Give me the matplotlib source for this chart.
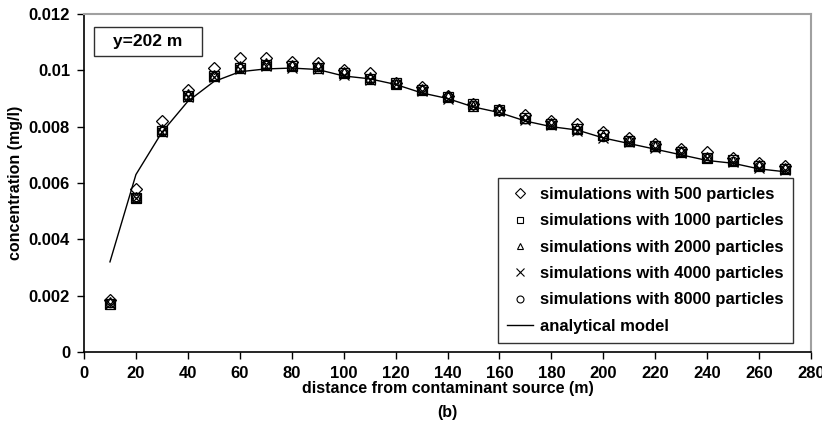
import matplotlib
matplotlib.use("Agg")
import matplotlib.pyplot as plt
from matplotlib.lines import Line2D
from matplotlib.patches import Rectangle

plt.rcParams['font.family'] = ['Liberation Sans', 'DejaVu Sans']

distance = [10, 20, 30, 40, 50, 60, 70, 80, 90, 100, 110, 120, 130, 140,
            150, 160, 170, 180, 190, 200, 210, 220, 230, 240, 250, 260, 270]

sim500 = [0.00185, 0.0058, 0.0082, 0.0093, 0.0101, 0.01045, 0.01045, 0.0103, 0.01025,
          0.0100, 0.0099, 0.00955, 0.0094, 0.0091, 0.0088, 0.0086, 0.0084, 0.0082,
          0.0081, 0.0078, 0.0076, 0.0074, 0.0072, 0.0071, 0.0069, 0.0067, 0.0066]
sim1000 = [0.00172, 0.00548, 0.00785, 0.0091, 0.0098, 0.0101, 0.0102, 0.01015, 0.0101,
           0.0099, 0.0097, 0.00954, 0.0093, 0.00905, 0.0088, 0.0086, 0.0083, 0.0081,
           0.0079, 0.0077, 0.0075, 0.0073, 0.0071, 0.0069, 0.0068, 0.0066, 0.0065]
sim2000 = [0.00178, 0.00552, 0.0079, 0.00915, 0.00985, 0.01015, 0.01025, 0.0102, 0.01015,
           0.00995, 0.00975, 0.00952, 0.00935, 0.0091, 0.00875, 0.00862, 0.0083, 0.00812,
           0.00795, 0.0077, 0.0075, 0.00732, 0.00715, 0.00692, 0.00678, 0.00665, 0.00652]
sim4000 = [0.00170, 0.00545, 0.0078, 0.00905, 0.00975, 0.01005, 0.01015, 0.0101, 0.01005,
           0.00985, 0.00965, 0.0095, 0.00925, 0.009, 0.00875, 0.00855, 0.00825, 0.00805,
           0.00785, 0.0076, 0.00745, 0.00725, 0.00705, 0.00688, 0.00675, 0.00655, 0.00645]
sim8000 = [0.00175, 0.0055, 0.00785, 0.0091, 0.0098, 0.0101, 0.0102, 0.01015, 0.01012,
           0.0099, 0.0097, 0.00953, 0.0093, 0.00905, 0.00878, 0.00858, 0.00828, 0.00808,
           0.00788, 0.00765, 0.00748, 0.0073, 0.0071, 0.0069, 0.00678, 0.0066, 0.00648]
analytical = [0.0032, 0.0063, 0.0078, 0.0089, 0.0096, 0.00995, 0.01005, 0.01008, 0.01003,
              0.0098, 0.0097, 0.0095, 0.0092, 0.0090, 0.0087, 0.0085, 0.0082, 0.0080,
              0.00788, 0.0076, 0.0074, 0.0072, 0.0070, 0.0068, 0.0067, 0.0065, 0.0064]

labels = ['simulations with 500 particles', 'simulations with 1000 particles',
          'simulations with 2000 particles', 'simulations with 4000 particles',
          'simulations with 8000 particles', 'analytical model']
xticks = list(range(0, 281, 20))
yticks = [0, 0.002, 0.004, 0.006, 0.008, 0.01, 0.012]
yticklabels = ['0', '0.002', '0.004', '0.006', '0.008', '0.01', '0.012']

W, H = 822, 424
fig = plt.figure(figsize=(W/100, H/100), dpi=100)
ax = fig.add_axes([84/W, 1-352/H, (811-84)/W, (352-14)/H])

series = [(sim500, 'D', 6.5), (sim1000, 's', 6.5), (sim2000, '^', 6.5),
          (sim4000, 'x', 6.5), (sim8000, 'o', 6.0)]
for vals, m, ms in series:
    if m == 'x':
        ax.plot(distance, vals, linestyle='none', marker=m, ms=ms, mec='black',
                mew=0.9, color='black')
    else:
        ax.plot(distance, vals, linestyle='none', marker=m, ms=ms, mfc='none',
                mec='black', mew=0.9)
ax.plot(distance, analytical, color='black', lw=1.0)

ax.set_xlim(0, 280)
ax.set_ylim(0, 0.012)
ax.set_xticks(xticks)
ax.set_xticklabels([str(t) for t in xticks], fontweight='bold', fontsize=12)
ax.set_yticks(yticks)
ax.set_yticklabels(yticklabels, fontweight='bold', fontsize=12)
ax.tick_params(direction='out', length=5, width=1, colors='black', pad=5)

for s in ['left', 'bottom']:
    ax.spines[s].set_color('black')
    ax.spines[s].set_linewidth(1.2)
for s in ['top', 'right']:
    ax.spines[s].set_color('#a0a0a0')
    ax.spines[s].set_linewidth(1.5)

ax.set_xlabel('distance from contaminant source (m)', fontweight='bold',
              fontsize=11.5, labelpad=0)
ax.set_ylabel('concentration (mg/l)', fontweight='bold', fontsize=11.5, labelpad=4)

fig.text((84+811)/2/W, 1-413/H, '(b)', ha='center', va='center',
         fontweight='bold', fontsize=11.5)

# "y=202 m" label box
fig.patches.append(Rectangle((94/W, 1-56/H), 108/W, 29/H, transform=fig.transFigure,
                             fc='white', ec='#303030', lw=1.0, zorder=5))
fig.text(148/W, 1-41.5/H, 'y=202 m', ha='center', va='center',
         fontweight='bold', fontsize=12.5, zorder=6)

handles = [
    Line2D([], [], linestyle='none', marker='D', ms=5, mfc='none', mec='black', mew=0.8),
    Line2D([], [], linestyle='none', marker='s', ms=5, mfc='none', mec='black', mew=0.8),
    Line2D([], [], linestyle='none', marker='^', ms=5, mfc='none', mec='black', mew=0.8),
    Line2D([], [], linestyle='none', marker='x', ms=6, color='black', mew=0.8),
    Line2D([], [], linestyle='none', marker='o', ms=5, mfc='none', mec='black', mew=0.8),
    Line2D([], [], color='black', lw=1.0),
]
leg = ax.legend(handles, labels, loc='lower right', bbox_to_anchor=(0.975, 0.027),
                frameon=True, fancybox=False, prop={'weight': 'bold', 'size': 12},
                handlelength=1.6, handletextpad=0.4, labelspacing=0.68,
                borderpad=0.55, borderaxespad=0)
leg.get_frame().set_edgecolor('black')
leg.get_frame().set_linewidth(1.0)

fig.savefig('out.png', dpi=100)
